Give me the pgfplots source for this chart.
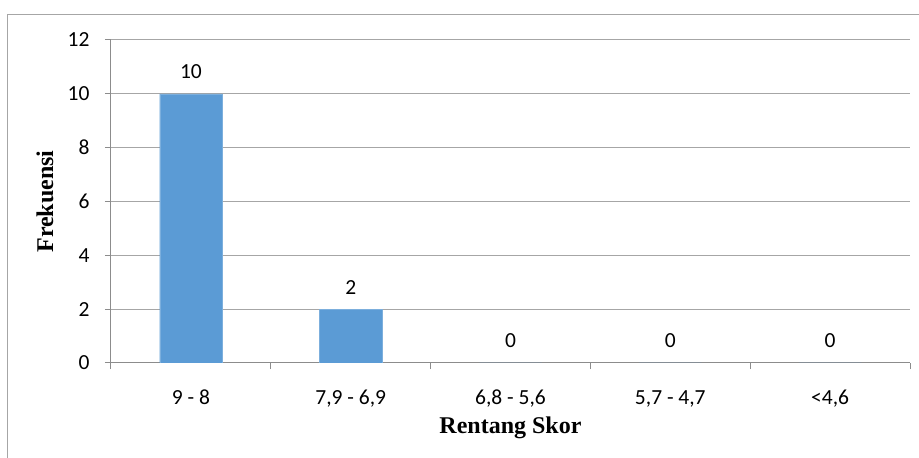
\documentclass[border=0pt]{standalone}
\usepackage{pgfplots}
\pgfplotsset{compat=1.18}
\usepackage{fontspec}
\setmainfont{Carlito}
\newfontfamily\timesfont{Liberation Serif}
\definecolor{barblue}{HTML}{5B9BD5}
\definecolor{gridgray}{HTML}{A6A6A6}
\definecolor{axisgray}{HTML}{8C8C8C}
\begin{document}
\begin{tikzpicture}
\useasboundingbox (-111pt,-95pt) rectangle (808pt,363pt);
% outer chart frame
\draw[gridgray, line width=1pt] (-103pt,-95pt) -- (-103pt,348pt) -- (808pt,348pt);
\begin{axis}[
    at={(0,0)}, anchor=south west,
    scale only axis,
    width=799pt, height=323pt,
    xmin=-0.5, xmax=4.5,
    ymin=0, ymax=12,
    ytick={0,2,...,12},
    xtick={-0.5,0.5,1.5,2.5,3.5,4.5},
    xticklabels={9 - 8, {7,9 - 6,9}, {6,8 - 5,6}, {5,7 - 4,7}, {<4,6}},
    x tick label as interval,
    axis lines*=left,
    axis line style={axisgray, line width=1pt},
    tick align=outside,
    major tick length=6pt,
    tick style={axisgray, line width=1pt},
    ymajorgrids,
    grid style={gridgray, line width=1pt},
    /pgf/number format/assume math mode=true,
    ticklabel style={font=\fontsize{21.5}{25}\selectfont},
    yticklabel style={xshift=-12pt},
    xticklabel style={anchor=base, yshift=-35pt},
    ybar,
    bar width=0.39,
    nodes near coords,
    nodes near coords style={font=\fontsize{21.5}{25}\selectfont, anchor=base, yshift=15pt},
]
\addplot[fill=barblue, draw=barblue!80!white] coordinates {
    (0,10) (1,2) (2,0) (3,0) (4,0)
};
\end{axis}
\node[font=\timesfont\bfseries\fontsize{24}{28}\selectfont, anchor=base] at (399.5pt,-70pt) {Rentang Skor};
\node[rotate=90, font=\timesfont\bfseries\fontsize{24}{28}\selectfont] at (-66pt,161.5pt) {Frekuensi};
\end{tikzpicture}
\end{document}
